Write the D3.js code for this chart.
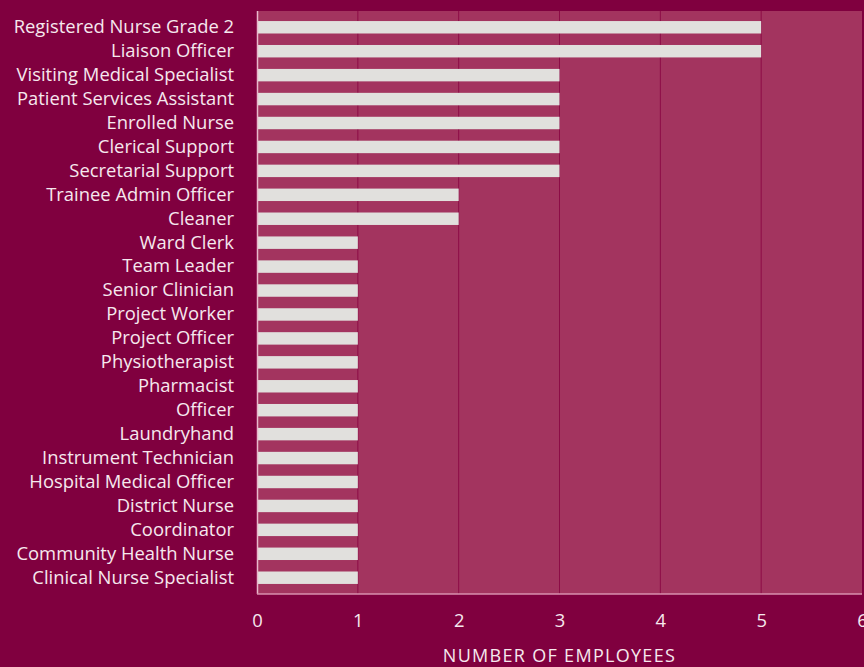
<!DOCTYPE html>
<html>
<head>
<meta charset="utf-8">
<script src="https://cdn.jsdelivr.net/npm/d3@7"></script>
<style>
  body { margin: 0; background: #80003f; }
  svg { display: block; }
  text { font-family: "Open Sans", sans-serif; fill: #f6e8ee; }
</style>
</head>
<body>
<div id="chart"></div>
<script>
// Employees by position
const positions = [
  'Registered Nurse Grade 2', 'Liaison Officer', 'Visiting Medical Specialist',
  'Patient Services Assistant', 'Enrolled Nurse', 'Clerical Support',
  'Secretarial Support', 'Trainee Admin Officer', 'Cleaner', 'Ward Clerk',
  'Team Leader', 'Senior Clinician', 'Project Worker', 'Project Officer',
  'Physiotherapist', 'Pharmacist', 'Officer', 'Laundryhand',
  'Instrument Technician', 'Hospital Medical Officer', 'District Nurse',
  'Coordinator', 'Community Health Nurse', 'Clinical Nurse Specialist'
];
const employees = [5, 5, 3, 3, 3, 3, 3, 2, 2, 1, 1, 1, 1, 1, 1, 1, 1, 1, 1, 1, 1, 1, 1, 1];
const xTicks = [0, 1, 2, 3, 4, 5, 6];

const W = 864, H = 667;
const margin = { left: 257, top: 11, right: 2, bottom: 73 };
const width = W - margin.left - margin.right;
const height = H - margin.top - margin.bottom;

const svg = d3.select('#chart').append('svg')
  .attr('width', W)
  .attr('height', H);

const frame = svg.append('g')
  .attr('transform', `translate(${margin.left}, ${margin.top})`);

const x = d3.scaleLinear().domain([0, 6]).range([0, width]);
const y = d3.scaleBand().domain(positions).range([0, height])
  .paddingInner(0.48).paddingOuter(0.42);

// plot background
frame.append('rect')
  .attr('width', width).attr('height', height)
  .attr('fill', '#a3345f');

// vertical gridlines
frame.append('g')
  .selectAll('line')
  .data(xTicks.filter(d => d > 0 && d < 6))
  .enter().append('line')
    .attr('x1', d => x(d)).attr('x2', d => x(d))
    .attr('y1', 0).attr('y2', height)
    .attr('stroke', '#8c0c46')
    .attr('stroke-width', 1);

// bars
frame.append('g')
  .selectAll('rect')
  .data(employees)
  .enter().append('rect')
    .attr('x', 0)
    .attr('y', (d, i) => y(positions[i]))
    .attr('width', d => x(d))
    .attr('height', y.bandwidth())
    .attr('fill', '#e1e0dd');

// axis lines
frame.append('line')
  .attr('x1', 0.5).attr('x2', 0.5).attr('y1', 0).attr('y2', height)
  .attr('stroke', '#e9b8cc').attr('stroke-width', 1.5);
frame.append('line')
  .attr('x1', 0).attr('x2', width).attr('y1', height).attr('y2', height)
  .attr('stroke', '#d98fae').attr('stroke-width', 1.5);

// category labels
const yAxis = d3.axisLeft(y).tickSize(0).tickPadding(23);
frame.append('g')
  .call(yAxis)
  .call(g => g.select('.domain').remove())
  .selectAll('text')
    .attr('font-size', 18.4)
    .attr('font-family', '"Open Sans", sans-serif');

// x tick labels
const xAxis = d3.axisBottom(x).tickValues(xTicks).tickFormat(d3.format('d'))
  .tickSize(0).tickPadding(20);
frame.append('g')
  .attr('transform', `translate(0, ${height})`)
  .call(xAxis)
  .call(g => g.select('.domain').remove())
  .selectAll('text')
    .attr('font-size', 18.4)
    .attr('font-family', '"Open Sans", sans-serif');

// axis title
svg.append('text')
  .attr('x', margin.left + width / 2)
  .attr('y', 662)
  .attr('text-anchor', 'middle')
  .attr('font-size', 18)
  .attr('letter-spacing', 1.3)
  .text('NUMBER OF EMPLOYEES');
</script>
</body>
</html>
